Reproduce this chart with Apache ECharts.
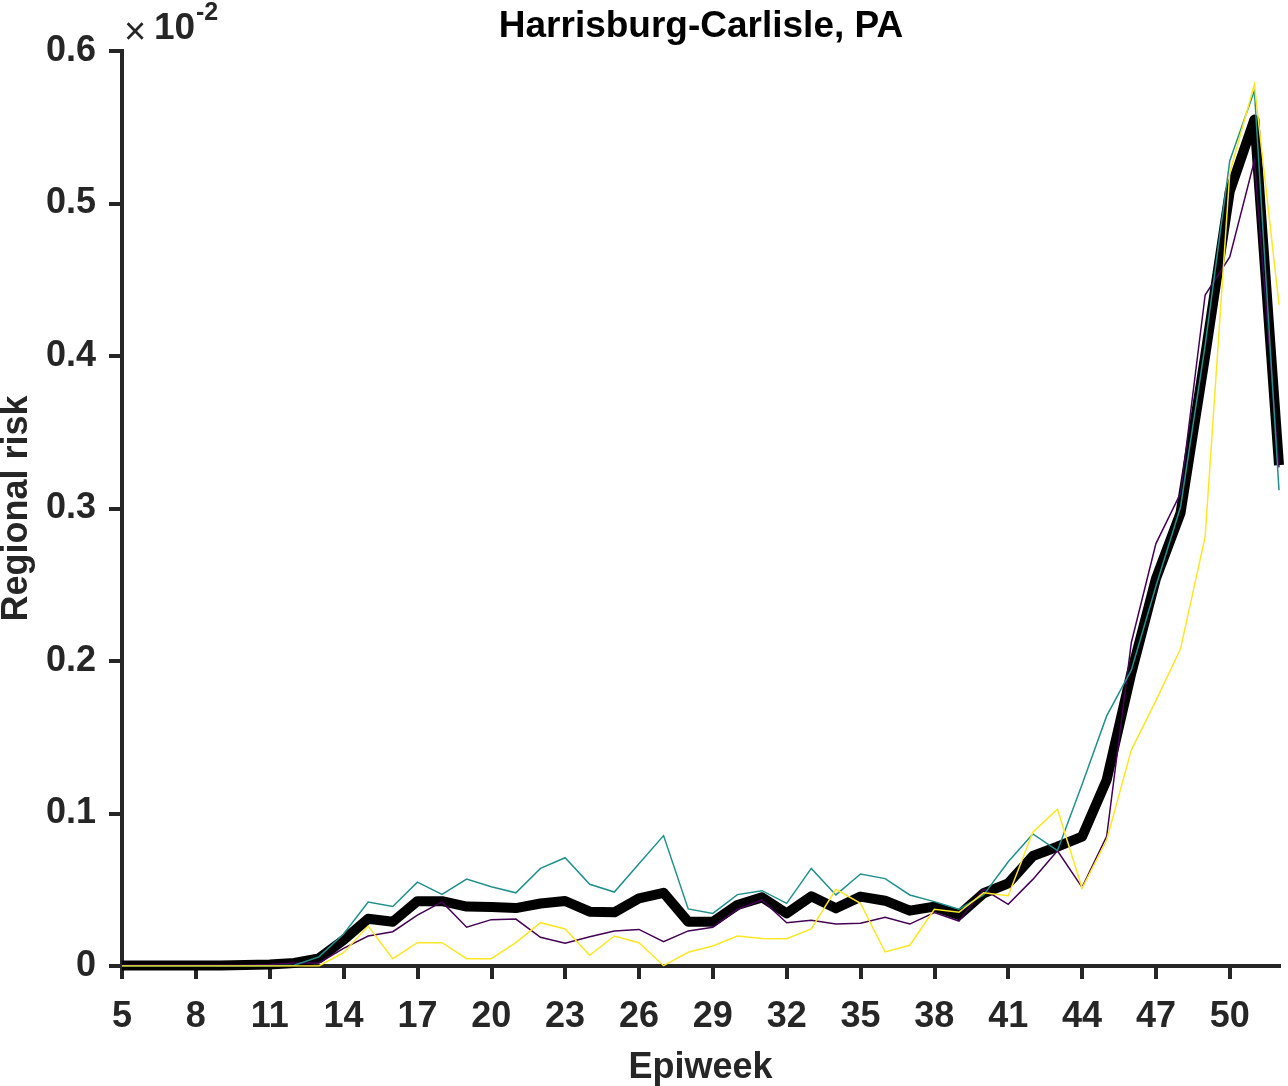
<!DOCTYPE html>
<html>
<head>
<meta charset="utf-8">
<title>Harrisburg-Carlisle, PA</title>
<script src="https://cdn.jsdelivr.net/npm/echarts@6/dist/echarts.min.js"></script>
<style>
  html, body { margin: 0; padding: 0; background: #ffffff; }
  #chart { width: 1288px; height: 1086px; }
</style>
</head>
<body>
<div id="chart"></div>
<script>
// Epiweeks on the x axis
const weeks = [5, 6, 7, 8, 9, 10, 11, 12, 13, 14, 15, 16, 17, 18, 19, 20,
  21, 22, 23, 24, 25, 26, 27, 28, 29, 30, 31, 32, 33, 34, 35, 36,
  37, 38, 39, 40, 41, 42, 43, 44, 45, 46, 47, 48, 49, 50, 51, 52];

// Tick positions / labels
const xTicks = [5, 8, 11, 14, 17, 20, 23, 26, 29, 32, 35, 38, 41, 44, 47, 50];
const yTicks = [0, 0.1, 0.2, 0.3, 0.4, 0.5, 0.6];

// Regional risk (x 10^-2), one value per epiweek
const meanRisk = [0.0003, 0.0003, 0.0003, 0.0003, 0.0004, 0.0006, 0.001, 0.002,
  0.005, 0.017, 0.031, 0.029, 0.0425, 0.0425, 0.039, 0.0387,
  0.038, 0.041, 0.0426, 0.0356, 0.0352, 0.0444, 0.048, 0.029,
  0.029, 0.040, 0.045, 0.0345, 0.0457, 0.0378, 0.0455, 0.0428,
  0.0363, 0.0389, 0.0334, 0.0477, 0.0542, 0.0721, 0.0782, 0.0848,
  0.122, 0.192, 0.254, 0.297, 0.400, 0.508, 0.555, 0.3285];

const riskA = [0.0005, 0.0005, 0.0005, 0.0005, 0.0005, 0.0005, 0.001, 0.002,
  0.002, 0.0116, 0.0197, 0.0225, 0.0334, 0.042, 0.0254, 0.0304,
  0.0308, 0.0188, 0.0149, 0.0192, 0.023, 0.024, 0.016, 0.023,
  0.0254, 0.0372, 0.0433, 0.0284, 0.030, 0.0275, 0.028, 0.0319,
  0.0275, 0.035, 0.0295, 0.0503, 0.0404, 0.0568, 0.0756, 0.0516,
  0.085, 0.212, 0.277, 0.310, 0.440, 0.465, 0.528, 0.327];

const riskB = [0, 0, 0, 0, 0, 0, 0, 0.0005,
  0.006, 0.021, 0.042, 0.039, 0.055, 0.047, 0.057, 0.052,
  0.048, 0.064, 0.071, 0.0536, 0.0485, 0.067, 0.0855, 0.0374,
  0.0345, 0.0468, 0.0494, 0.0411, 0.064, 0.0466, 0.0603, 0.0573,
  0.0466, 0.0422, 0.0372, 0.0466, 0.0684, 0.0866, 0.0756, 0.119,
  0.164, 0.194, 0.249, 0.301, 0.407, 0.528, 0.574, 0.312];

const riskC = [0, 0, 0, 0, 0, 0, 0, 0,
  0, 0.0087, 0.0262, 0.0048, 0.0153, 0.0153, 0.0048, 0.0048,
  0.0153, 0.0284, 0.0243, 0.007, 0.0197, 0.0153, 0.0002, 0.009,
  0.0131, 0.0197, 0.018, 0.0179, 0.0243, 0.0503, 0.0411, 0.0092,
  0.0136, 0.0372, 0.0352, 0.048, 0.0461, 0.0877, 0.1028, 0.051,
  0.0826, 0.1416, 0.174, 0.208, 0.2815, 0.520, 0.578, 0.4335];

const FONT = '"Liberation Sans", Arial, Helvetica, sans-serif';
const INK = '#262626';

function pairs(values) {
  return weeks.map((w, i) => [w, values[i]]);
}

function thinLine(name, color, values) {
  return {
    name: name,
    type: 'line',
    data: pairs(values),
    showSymbol: false,
    symbol: 'none',
    silent: true,
    lineStyle: { color: color, width: 1.5, join: 'miter' }
  };
}

const chart = echarts.init(document.getElementById('chart'), null, { renderer: 'canvas' });

chart.setOption({
  animation: false,
  backgroundColor: '#ffffff',
  grid: {
    left: 122, right: 9, top: 51, bottom: 120,
    containLabel: false,
    outerBoundsMode: 'none'
  },
  xAxis: {
    type: 'value',
    min: 5,
    max: 52,
    interval: 3,
    name: 'Epiweek',
    nameLocation: 'middle',
    nameGap: 84,
    nameTextStyle: { fontFamily: FONT, fontWeight: 'bold', fontSize: 36, color: INK },
    axisLine: { show: true, onZero: false, lineStyle: { color: INK, width: 4, cap: 'square' } },
    axisTick: { show: true, length: 13, customValues: xTicks, lineStyle: { color: INK, width: 4 } },
    axisLabel: {
      customValues: xTicks,
      fontFamily: FONT, fontWeight: 'bold', fontSize: 36, color: INK, margin: 33
    },
    splitLine: { show: false }
  },
  yAxis: {
    type: 'value',
    min: 0,
    max: 0.6,
    interval: 0.1,
    name: 'Regional risk',
    nameLocation: 'middle',
    nameGap: 86,
    nameTextStyle: { fontFamily: FONT, fontWeight: 'bold', fontSize: 36, color: INK },
    axisLine: { show: true, onZero: false, lineStyle: { color: INK, width: 4, cap: 'square' } },
    axisTick: { show: true, length: 13, customValues: yTicks, lineStyle: { color: INK, width: 4 } },
    axisLabel: {
      customValues: yTicks,
      fontFamily: FONT, fontWeight: 'bold', fontSize: 36, color: INK, margin: 26,
      formatter: v => (v === 0 ? '0' : v.toFixed(1))
    },
    splitLine: { show: false }
  },
  graphic: [
    {
      type: 'text', x: 701, y: 8,
      style: {
        text: 'Harrisburg-Carlisle, PA', fontFamily: FONT, fontWeight: 'bold',
        fontSize: 37, fill: '#000000', textAlign: 'center', textVerticalAlign: 'top'
      }
    },
    {
      type: 'text', x: 124, y: 15,
      style: { text: '\u00d7', fontFamily: FONT, fontSize: 38, fill: INK, textVerticalAlign: 'top' }
    },
    {
      type: 'text', x: 154, y: 10,
      style: { text: '10', fontFamily: FONT, fontWeight: 'bold', fontSize: 37, fill: INK, textVerticalAlign: 'top' }
    },
    {
      type: 'text', x: 196, y: 1,
      style: { text: '-2', fontFamily: FONT, fontWeight: 'bold', fontSize: 25, fill: INK, textVerticalAlign: 'top' }
    }
  ],
  series: [
    {
      name: 'Mean',
      type: 'line',
      data: pairs(meanRisk),
      showSymbol: false,
      symbol: 'none',
      silent: true,
      lineStyle: { color: '#000000', width: 10, join: 'round', cap: 'butt' }
    },
    thinLine('Model A', '#440154', riskA),
    thinLine('Model B', '#21908c', riskB),
    thinLine('Model C', '#fde725', riskC)
  ]
});
</script>
</body>
</html>
